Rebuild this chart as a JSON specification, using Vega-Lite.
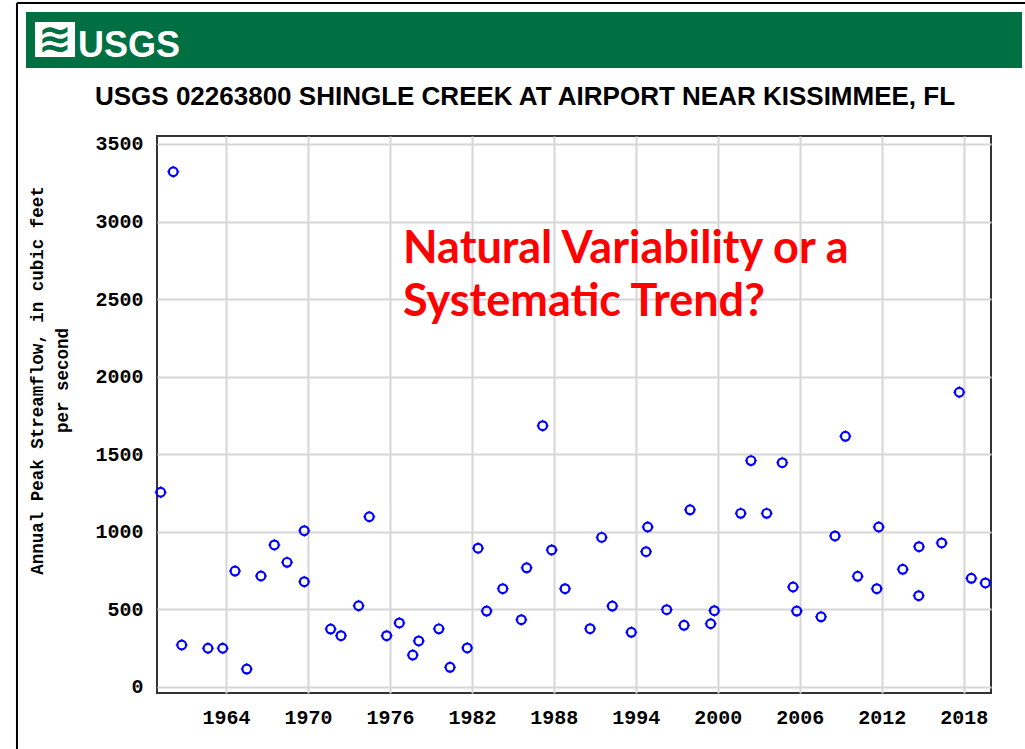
{
  "$schema": "https://vega.github.io/schema/vega-lite/v6.json",
  "width": 834,
  "height": 557,
  "autosize": {"type": "none"},
  "padding": {"left": 157, "top": 136, "right": 34, "bottom": 56},
  "background": "white",
  "config": {
    "view": {"stroke": "#333333", "strokeWidth": 2},
    "axis": {
      "labelFont": "Liberation Mono",
      "labelFontWeight": "bold",
      "labelFontSize": 20,
      "labelColor": "#000000",
      "ticks": false,
      "domain": false,
      "grid": true,
      "gridColor": "#d6d6d6",
      "gridWidth": 2
    }
  },
  "data": {"values": [
    {"year":1959.22,"peak":1254},
    {"year":1960.14,"peak":3321},
    {"year":1960.76,"peak":269},
    {"year":1962.68,"peak":248},
    {"year":1963.76,"peak":248},
    {"year":1964.66,"peak":746},
    {"year":1965.52,"peak":114},
    {"year":1966.56,"peak":714},
    {"year":1967.54,"peak":914},
    {"year":1968.47,"peak":802},
    {"year":1969.73,"peak":1006},
    {"year":1969.73,"peak":677},
    {"year":1971.66,"peak":372},
    {"year":1972.42,"peak":329},
    {"year":1973.71,"peak":522},
    {"year":1974.49,"peak":1096},
    {"year":1975.76,"peak":329},
    {"year":1976.69,"peak":411},
    {"year":1977.67,"peak":204},
    {"year":1978.11,"peak":295},
    {"year":1979.58,"peak":373},
    {"year":1980.40,"peak":125},
    {"year":1981.66,"peak":250},
    {"year":1982.45,"peak":893},
    {"year":1983.08,"peak":488},
    {"year":1984.26,"peak":632},
    {"year":1985.62,"peak":432},
    {"year":1986.01,"peak":767},
    {"year":1987.18,"peak":1683},
    {"year":1987.84,"peak":882},
    {"year":1988.82,"peak":632},
    {"year":1990.65,"peak":374},
    {"year":1991.50,"peak":963},
    {"year":1992.28,"peak":520},
    {"year":1993.67,"peak":351},
    {"year":1994.75,"peak":871},
    {"year":1994.87,"peak":1030},
    {"year":1996.26,"peak":497},
    {"year":1997.53,"peak":396},
    {"year":1997.97,"peak":1141},
    {"year":1999.48,"peak":406},
    {"year":1999.75,"peak":490},
    {"year":2001.68,"peak":1118},
    {"year":2002.43,"peak":1458},
    {"year":2003.58,"peak":1118},
    {"year":2004.72,"peak":1445},
    {"year":2005.51,"peak":643},
    {"year":2005.78,"peak":488},
    {"year":2007.56,"peak":451},
    {"year":2008.58,"peak":972},
    {"year":2009.34,"peak":1615},
    {"year":2010.24,"peak":712},
    {"year":2011.64,"peak":632},
    {"year":2011.78,"peak":1030},
    {"year":2013.54,"peak":757},
    {"year":2014.71,"peak":587},
    {"year":2014.73,"peak":903},
    {"year":2016.39,"peak":927},
    {"year":2017.68,"peak":1899},
    {"year":2018.56,"peak":699},
    {"year":2019.59,"peak":669}
  ]},
  "layer": [
    {
      "mark": {"type": "point", "shape": "circle", "filled": false, "color": "#0000ff", "strokeWidth": 2.2, "size": 76, "opacity": 1},
      "encoding": {
        "x": {"field": "year", "type": "quantitative",
              "scale": {"domain": [1958.95, 2020.0], "nice": false, "zero": false},
              "axis": {"values": [1964,1970,1976,1982,1988,1994,2000,2006,2012,2018], "format": "d", "title": null, "labelPadding": 14}},
        "y": {"field": "peak", "type": "quantitative",
              "scale": {"domain": [-40.6, 3551.5], "nice": false, "zero": false},
              "axis": {"values": [0,500,1000,1500,2000,2500,3000,3500], "format": "d", "labelPadding": 14,
                       "title": ["Annual Peak Streamflow, in cubic feet", "per second"],
                       "titleFont": "Liberation Mono", "titleFontWeight": "bold", "titleFontSize": 17.5,
                       "titleLineHeight": 25, "titleColor": "#000000",
                       "titleX": -111, "titleY": 244, "titleAlign": "center", "titleBaseline": "bottom", "titleAngle": 270}}
      }
    },
    {
      "mark": {"type": "point", "shape": "M0,-1L0,-0.78M0,0.78L0,1M-1,0L-0.78,0M0.78,0L1,0", "filled": false, "color": "#0000ff", "strokeWidth": 1, "size": 144, "opacity": 1},
      "encoding": {
        "x": {"field": "year", "type": "quantitative", "scale": {"domain": [1958.95, 2020.0], "nice": false, "zero": false}},
        "y": {"field": "peak", "type": "quantitative", "scale": {"domain": [-40.6, 3551.5], "nice": false, "zero": false}}
      }
    },
    {
      "data": {"values": [{}]},
      "mark": {"type": "rect", "color": "#007042"},
      "encoding": {
        "x": {"datum": 1949.36, "type": "quantitative", "scale": {"domain": [1958.95, 2020.0], "nice": false, "zero": false}},
        "x2": {"datum": 2022.27},
        "y": {"datum": 4351, "type": "quantitative", "scale": {"domain": [-40.6, 3551.5], "nice": false, "zero": false}},
        "y2": {"datum": 3990}
      }
    },
    {
      "data": {"values": [{}]},
      "mark": {"type": "rect", "color": "#ffffff"},
      "encoding": {
        "x": {"datum": 1950.02, "type": "quantitative", "scale": {"domain": [1958.95, 2020.0], "nice": false, "zero": false}},
        "x2": {"datum": 1952.95},
        "y": {"datum": 4286, "type": "quantitative", "scale": {"domain": [-40.6, 3551.5], "nice": false, "zero": false}},
        "y2": {"datum": 4061}
      }
    },
    {
      "data": {"values": [{}]},
      "mark": {"type": "text", "text": "≋", "color": "#007042", "font": "DejaVu Sans", "fontSize": 40, "fontWeight": "bold", "align": "center", "baseline": "middle"},
      "encoding": {
        "x": {"datum": 1951.48, "type": "quantitative", "scale": {"domain": [1958.95, 2020.0], "nice": false, "zero": false}},
        "y": {"datum": 4170, "type": "quantitative", "scale": {"domain": [-40.6, 3551.5], "nice": false, "zero": false}}
      }
    },
    {
      "data": {"values": [{}]},
      "mark": {"type": "text", "text": "USGS", "color": "#ffffff", "font": "Liberation Sans", "fontSize": 36, "fontWeight": "bold", "align": "left", "baseline": "alphabetic"},
      "encoding": {
        "x": {"datum": 1953.17, "type": "quantitative", "scale": {"domain": [1958.95, 2020.0], "nice": false, "zero": false}},
        "y": {"datum": 4061, "type": "quantitative", "scale": {"domain": [-40.6, 3551.5], "nice": false, "zero": false}}
      }
    },
    {
      "data": {"values": [{}]},
      "mark": {"type": "text", "text": "USGS 02263800 SHINGLE CREEK AT AIRPORT NEAR KISSIMMEE, FL", "color": "#000000", "font": "Liberation Sans", "fontSize": 26, "fontWeight": "bold", "align": "left", "baseline": "alphabetic"},
      "encoding": {
        "x": {"datum": 1954.41, "type": "quantitative", "scale": {"domain": [1958.95, 2020.0], "nice": false, "zero": false}},
        "y": {"datum": 3751, "type": "quantitative", "scale": {"domain": [-40.6, 3551.5], "nice": false, "zero": false}}
      }
    },
    {
      "data": {"values": [{}]},
      "mark": {"type": "text", "text": ["Natural Variability or a", "Systematic Trend?"], "color": "#ff0000", "font": "Lato", "fontSize": 45, "fontWeight": "bold", "align": "left", "baseline": "alphabetic", "lineHeight": 53},
      "encoding": {
        "x": {"datum": 1976.96, "type": "quantitative", "scale": {"domain": [1958.95, 2020.0], "nice": false, "zero": false}},
        "y": {"datum": 2732, "type": "quantitative", "scale": {"domain": [-40.6, 3551.5], "nice": false, "zero": false}}
      }
    },
    {
      "data": {"values": [{}]},
      "mark": {"type": "rule", "color": "#000000", "strokeWidth": 2},
      "encoding": {
        "x": {"datum": 1948.70, "type": "quantitative", "scale": {"domain": [1958.95, 2020.0], "nice": false, "zero": false}},
        "x2": {"datum": 2022.5},
        "y": {"datum": 4409, "type": "quantitative", "scale": {"domain": [-40.6, 3551.5], "nice": false, "zero": false}}
      }
    },
    {
      "data": {"values": [{}]},
      "mark": {"type": "rule", "color": "#000000", "strokeWidth": 2},
      "encoding": {
        "x": {"datum": 1948.70, "type": "quantitative", "scale": {"domain": [1958.95, 2020.0], "nice": false, "zero": false}},
        "y": {"datum": 4409, "type": "quantitative", "scale": {"domain": [-40.6, 3551.5], "nice": false, "zero": false}},
        "y2": {"datum": -402}
      }
    }
  ]
}
